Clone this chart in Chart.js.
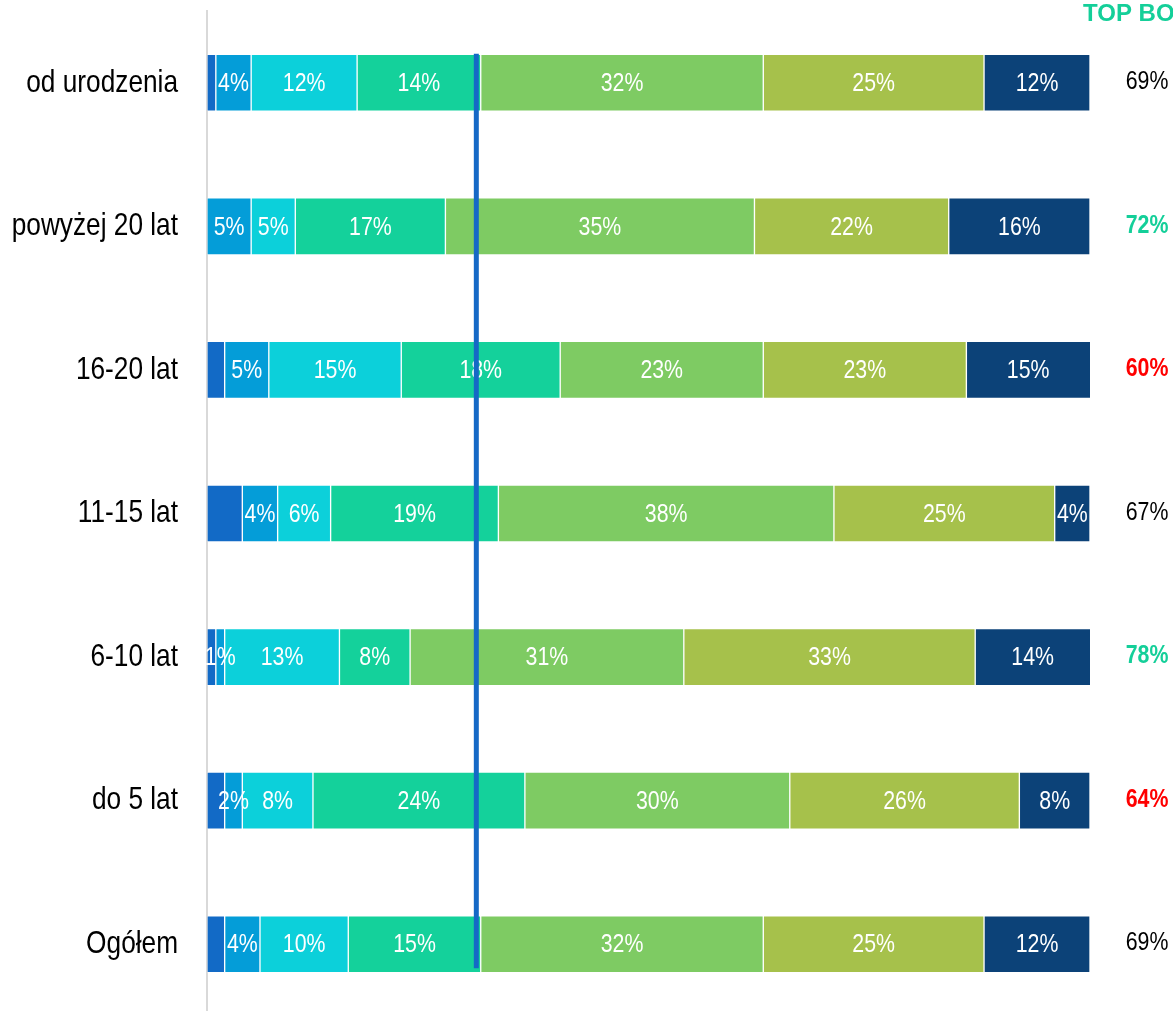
<!DOCTYPE html>
<html lang="pl">
<head>
<meta charset="utf-8">
<title>Okres zamieszkania</title>
<script src="https://cdn.jsdelivr.net/npm/chart.js@4.4.1/dist/chart.umd.min.js"></script>
<style>
  html, body { margin: 0; padding: 0; background: #fff; overflow: hidden; }
  #wrap { width: 1173px; height: 1016px; position: relative; }
</style>
</head>
<body>
<div id="wrap"><canvas id="wykres"></canvas></div>
<script>
// Kategorie (wiersze wykresu)
const kategorie = ['od urodzenia', 'powyżej 20 lat', '16-20 lat', '11-15 lat', '6-10 lat', 'do 5 lat', 'Ogółem'];

// Udziały odpowiedzi w % (od najniższej do najwyższej oceny)
const ocena1 = [1, 0, 2, 4, 1, 2, 2];
const ocena2 = [4, 5, 5, 4, 1, 2, 4];
const ocena3 = [12, 5, 15, 6, 13, 8, 10];
const ocena4 = [14, 17, 18, 19, 8, 24, 15];
const ocena5 = [32, 35, 23, 38, 31, 30, 32];
const ocena6 = [25, 22, 23, 25, 33, 26, 25];
const ocena7 = [12, 16, 15, 4, 14, 8, 12];

// TOP BOX i jego oznaczenie: 0 = bez zmian, 1 = wyżej, -1 = niżej
const topBox = [69, 72, 60, 67, 78, 64, 69];
const topBoxZnak = [0, 1, -1, 0, 1, -1, 0];

// Pozycja pionowej linii odniesienia (w %)
const liniaOdniesienia = 30.5;

const kolory = ['#126ac6', '#049dd8', '#0cd0da', '#14d19b', '#7ecb63', '#a6c14b', '#0c4278'];
const serie = [ocena1, ocena2, ocena3, ocena4, ocena5, ocena6, ocena7];

const CZCIONKA = "'Liberation Sans', Arial, sans-serif";

// Tekst zwężony jak Arial Narrow
function tekstWaski(ctx, txt, x, y, size, weight, align, color) {
  ctx.save();
  ctx.translate(x, y);
  ctx.scale(0.82, 1);
  ctx.font = weight + ' ' + size + 'px ' + CZCIONKA;
  ctx.textAlign = align;
  ctx.textBaseline = 'middle';
  ctx.fillStyle = color;
  ctx.fillText(txt, 0, 0);
  ctx.restore();
}

// Etykiety wartości wewnątrz segmentów
const etykietySegmentow = {
  id: 'etykietySegmentow',
  afterDatasetsDraw(chart) {
    const ctx = chart.ctx;
    const right = chart.chartArea.right;
    chart.data.datasets.forEach((ds, i) => {
      if (i === 0) return;
      chart.getDatasetMeta(i).data.forEach((el, j) => {
        const v = ds.data[j];
        if (!v) return;
        const x = (Math.min(el.x, right) + Math.min(el.base, right)) / 2;
        tekstWaski(ctx, v + '%', x, el.y + 1, 26, 'normal', 'center', '#ffffff');
      });
    });
  }
};

// Kategorie po lewej, TOP BOX po prawej i linia odniesienia
const opisy = {
  id: 'opisy',
  afterDraw(chart) {
    const ctx = chart.ctx;
    const y = chart.scales.y;
    const x = chart.scales.x;

    kategorie.forEach((k, i) => {
      tekstWaski(ctx, k, 178, y.getPixelForValue(i), 32, 'normal', 'right', '#000000');
    });

    topBox.forEach((v, i) => {
      let kolor = '#000000', waga = 'normal';
      if (topBoxZnak[i] > 0) { kolor = '#14cf99'; waga = 'bold'; }
      if (topBoxZnak[i] < 0) { kolor = '#ff0000'; waga = 'bold'; }
      tekstWaski(ctx, v + '%', 1147, y.getPixelForValue(i) - 1, 26, waga, 'center', kolor);
    });

    ctx.save();
    ctx.font = 'bold 24px ' + CZCIONKA;
    ctx.fillStyle = '#14cf99';
    ctx.textBaseline = 'alphabetic';
    ctx.fillText('TOP BOX', 1083, 21);
    ctx.restore();

    const lx = x.getPixelForValue(liniaOdniesienia);
    ctx.save();
    ctx.strokeStyle = '#1569c6';
    ctx.lineWidth = 5;
    ctx.beginPath();
    ctx.moveTo(lx, y.getPixelForValue(0) - 29);
    ctx.lineTo(lx, y.getPixelForValue(kategorie.length - 1) + 24);
    ctx.stroke();
    ctx.restore();
  }
};

const ctx = document.getElementById('wykres').getContext('2d');
const wykres = new Chart(ctx, {
  type: 'bar',
  data: {
    labels: kategorie,
    datasets: serie.map((dane, i) => ({
      label: 'ocena ' + (i + 1),
      data: dane,
      backgroundColor: kolory[i],
      borderColor: 'rgba(255,255,255,0.18)',
      borderWidth: 1,
      borderSkipped: false,
      barThickness: 57
    }))
  },
  options: {
    indexAxis: 'y',
    responsive: true,
    maintainAspectRatio: false,
    animation: false,
    layout: { padding: { top: 11, right: 83, left: 0, bottom: 0 } },
    plugins: {
      legend: { display: false },
      tooltip: { enabled: false }
    },
    scales: {
      x: {
        stacked: true,
        min: 0,
        max: 100,
        display: false
      },
      y: {
        stacked: true,
        grid: { display: false },
        border: { display: true, color: '#d9d9d9', width: 2 },
        ticks: { display: false },
        afterFit(scale) { scale.width = 207; }
      }
    }
  },
  plugins: [etykietySegmentow, opisy]
});
</script>
</body>
</html>
